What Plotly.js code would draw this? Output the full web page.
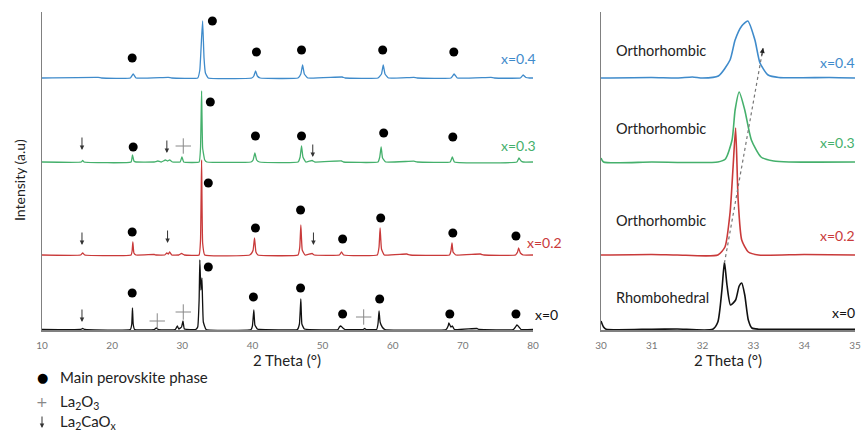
<!DOCTYPE html>
<html>
<head>
<meta charset="utf-8">
<script src="https://cdn.plot.ly/plotly-3.0.1.min.js"></script>
<style>html,body{margin:0;padding:0;background:#fff;}#chart{width:861px;height:432px;}</style>
</head>
<body>
<div id="chart"></div>
<script>
// ---------- DATA ----------
const sampleNames = ["x=0", "x=0.2", "x=0.3", "x=0.4"];
const sampleColors = ["#111111", "#c93a3a", "#45b06c", "#3f8bcb"];
const stackOffsets = [0, 75, 168, 252];   // vertical stacking of patterns (a.u.)

// Full pattern, 2 Theta 10-80
const full_x0 = [10,15.5,15.8,16.1,22.6,22.8,22.9,23.0,23.2,26.0,26.3,26.6,29.0,29.3,29.5,29.9,30.1,30.3,31.9,32.2,32.4,32.5,32.65,32.8,33.0,33.4,39.8,40.0,40.2,40.35,40.7,41,46.4,46.7,46.9,47.05,47.4,52.2,52.4,52.6,52.9,53.2,55.8,56,56.2,57.7,57.9,58.05,58.2,58.5,58.9,67.6,67.9,68.0,68.3,68.5,68.8,72,72.3,77.2,77.5,77.7,78.0,78.3,80];
const full_y0 = [0.5,0.5,1.5,0.5,0.5,6,22,6,0.5,0.5,2,0.5,0.5,4,1,3,9,1,0.5,3,30,70,40,52,8,0.5,0.5,4,20,5,1,0.5,0.5,6,31,6,1,0.5,3,4,2,0.5,0.5,1.5,0.5,0.5,6,19,8,3,0.5,0.5,4,7,3,4,0.5,1.5,0.5,0.5,3,5,3,0.5,0.5];

const full_x1 = [10,15.5,15.8,16.1,22.7,22.85,22.95,23.1,23.4,26,26.3,27.5,27.8,28.0,28.2,28.5,29.5,29.9,30.3,32.4,32.6,32.75,32.9,33.2,39.6,39.9,40.1,40.3,40.5,40.8,46.5,46.75,46.9,47.1,47.5,48.5,48.8,52.4,52.7,53,57.8,58.05,58.2,58.4,58.8,62,62.5,68.1,68.3,68.45,68.6,69,72.5,73,77.5,77.8,77.95,78.2,78.6,80];
const full_y1 = [0,0,2,0,0,4,13,2,0,0.5,0,0,2,1,3,0,0,1.5,0,0,15,95,12,0,0,2,5,17,3,0,0,8,30,5,0,1.5,0,0,3,0,0,8,27,6,0,1,0,0,4,12,3,0,1,0,0,3,7,2,0,0];

const full_x2 = [10,15.6,15.8,16,22.7,22.9,23.1,23.4,26,26.5,27,27.6,27.9,28.2,28.6,29.7,29.95,30.2,32.4,32.6,32.75,32.9,33.2,33.5,39.8,40.1,40.35,40.6,41,46.5,46.8,47.0,47.2,47.6,48.5,48.9,52.7,53,57.9,58.15,58.35,58.55,59,63,63.5,68.2,68.5,68.8,77.7,78,78.3,78.6,80];
const full_y2 = [0,0,1.5,0,0,7,1,0,0,1,0,2,1,2,0,0,5,0,0,14,71,14,2,0,0,2,9,2,0,0,5,16,5,0,1.5,0,1,0,0,5,15,4,0,0.8,0,0,5,0,0,4,1,0,0];

const full_x3 = [10,18,18.5,22.6,23.0,23.4,28,28.5,32.2,32.5,32.75,32.9,33.1,33.3,33.7,39.9,40.2,40.45,40.7,41.1,46.5,46.9,47.15,47.4,47.9,52.8,53.2,57.9,58.4,58.65,58.9,59.4,63,63.5,68.3,68.75,69.2,74,74.5,78.2,78.6,79,79.5,80];
const full_y3 = [0,0.6,0,0,4,0,0.6,0,0,8,40,57,20,5,0,0,2,7,2,0,0,4,13,4,0,1,0,0,4,13,4,0,0.6,0,0,4,0,0.6,0,0,3,0.5,0,0];

// Zoomed main reflection, 2 Theta 30-35
const zoom_x0 = [30,30.05,30.1,31,31.5,32.2,32.3,32.38,32.43,32.48,32.55,32.65,32.72,32.77,32.83,32.9,32.97,33.1,34,35];
const zoom_y0 = [9,3,0.8,0.8,1,0.8,8,40,68,45,25,30,44,47,35,10,2,0.8,0.8,0.8];
const zoom_x1 = [30,31,31.5,32.3,32.44,32.54,32.6,32.65,32.7,32.77,32.9,33.1,34,35];
const zoom_y1 = [0,0.5,0,0,8,42,88,127,55,15,3,0,0.5,0];
const zoom_x2 = [30,30.05,31,32.3,32.45,32.58,32.64,32.72,32.83,32.96,33.15,33.4,33.7,35];
const zoom_y2 = [4,0,0,0,3,22,52,70,52,22,5,1,0,0];
const zoom_x3 = [30,31,31.5,31.8,32.0,32.31,32.54,32.64,32.77,32.89,33.03,33.13,33.29,33.5,34.5,35];
const zoom_y3 = [0,0.5,0,1,0,2,18,38,52,57,38,15,3,0.5,0.5,0];

// Phase markers (2 Theta, a.u. position on stacked plot)
const perovDotX = [22.86,34.29,40.57,47.0,58.57,68.71, 23.0,34.0,40.43,47.0,58.71,68.57, 22.86,33.71,40.43,46.86,52.86,58.29,68.57,77.57, 22.86,33.71,40.14,46.86,52.86,58.14,68.14,77.57];
const perovDotY = [272,309,278,280,280,278, 183,228,194,194,197,193, 98,147,102,120,91,112,97,94, 37,63,33,42,16,31,16,16];
const la2o3X = [26.43,30.14,55.86,30.14];
const la2o3Y = [9,18,13,184];
const la2caoxX = [15.7, 15.7,27.9,48.7, 15.7,27.8,48.6];
const la2caoxY = [8, 85,87,85, 180,177,173];

const leftTicks = [10,20,30,40,50,60,70,80];
const rightTicks = [30,31,32,33,34,35];
const phaseLabels = ["Rhombohedral","Orthorhombic","Orthorhombic","Orthorhombic"];
const phaseLabelY = [33,110,202,280];
const leftLabelY = [16,88,185,272];
const rightLabelY = [18,95,188,268];
const shiftArrow = {x0: 32.43, y0: 67, x1: 33.19, y1: 282};

// ---------- BUILD ----------
const fullX = [full_x0, full_x1, full_x2, full_x3];
const fullY = [full_y0, full_y1, full_y2, full_y3];
const zoomX = [zoom_x0, zoom_x1, zoom_x2, zoom_x3];
const zoomY = [zoom_y0, zoom_y1, zoom_y2, zoom_y3];

const traces = [];
for (let i = 3; i >= 0; i--) {
  traces.push({x: fullX[i], y: fullY[i].map(v => v + stackOffsets[i]), type: 'scatter', mode: 'lines',
    line: {color: sampleColors[i], width: 1.3, shape: 'spline', smoothing: 0.3}, xaxis: 'x', yaxis: 'y', name: sampleNames[i], hoverinfo: 'skip'});
  traces.push({x: zoomX[i], y: zoomY[i].map(v => v + stackOffsets[i]), type: 'scatter', mode: 'lines',
    line: {color: sampleColors[i], width: 1.6, shape: 'spline', smoothing: 0.6}, xaxis: 'x2', yaxis: 'y2', name: sampleNames[i], hoverinfo: 'skip'});
}
traces.push({x: perovDotX, y: perovDotY, type: 'scatter', mode: 'markers', xaxis: 'x', yaxis: 'y',
  marker: {symbol: 'circle', size: 9, color: '#000'}, cliponaxis: false, hoverinfo: 'skip'});
traces.push({x: la2o3X, y: la2o3Y, type: 'scatter', mode: 'markers', xaxis: 'x', yaxis: 'y',
  marker: {symbol: 'cross-thin-open', size: 11, color: '#888', line: {width: 1, color: '#888'}}, hoverinfo: 'skip'});

const font = 'Lato, "Open Sans", sans-serif';
const MR = 6, ML = 42, MT = 12, PH = 318;
const PW = 861 - ML - MR;
const px = v => (v - ML) / PW;          // pixel x -> paper
const py = v => (MT + PH - v) / PH;     // pixel y -> paper
const annotations = [];
la2caoxX.forEach((x, k) => {
  annotations.push({x: x, y: la2caoxY[k], xref: 'x', yref: 'y', ax: 0, ay: -14, showarrow: true, text: '',
    arrowhead: 2, arrowsize: 0.9, arrowwidth: 1, arrowcolor: '#333'});
});
const leftLabelPX = [533, 525, 538, 538];
const leftLabelAnchor = ['left', 'left', 'right', 'right'];
for (let i = 0; i < 4; i++) {
  annotations.push({x: px(leftLabelPX[i]), y: leftLabelY[i], xref: 'paper', yref: 'y',
    xanchor: leftLabelAnchor[i], yanchor: 'middle', text: sampleNames[i], showarrow: false,
    font: {family: font, size: 14, color: sampleColors[i]}});
  annotations.push({x: px(857), y: rightLabelY[i], xref: 'paper', yref: 'y2', xanchor: 'right', yanchor: 'middle',
    text: sampleNames[i], showarrow: false, font: {family: font, size: 14, color: sampleColors[i]}});
  annotations.push({x: 30.25, y: phaseLabelY[i], xref: 'x2', yref: 'y2', xanchor: 'left', yanchor: 'middle',
    text: phaseLabels[i], showarrow: false, font: {family: font, size: 14.5, color: '#222'}});
}
// shift arrow head
annotations.push({x: shiftArrow.x1, y: shiftArrow.y1, xref: 'x2', yref: 'y2', ax: -1.5, ay: 9, showarrow: true, text: '',
  arrowhead: 2, arrowsize: 1, arrowwidth: 1, arrowcolor: '#222'});
// axis titles
annotations.push({x: px(19), y: py(180), xref: 'paper', yref: 'paper', text: 'Intensity (a.u)', textangle: -90,
  showarrow: false, font: {family: font, size: 14, color: '#222'}, xanchor: 'center', yanchor: 'middle'});
annotations.push({x: px(287), y: py(360), xref: 'paper', yref: 'paper', text: '2 Theta (°)', showarrow: false,
  font: {family: font, size: 15, color: '#222'}, xanchor: 'center', yanchor: 'middle'});
annotations.push({x: px(728), y: py(360), xref: 'paper', yref: 'paper', text: '2 Theta (°)', showarrow: false,
  font: {family: font, size: 15, color: '#222'}, xanchor: 'center', yanchor: 'middle'});
// legend
annotations.push({x: px(42), y: py(377), xref: 'paper', yref: 'paper', text: '●', showarrow: false, xanchor: 'center', yanchor: 'middle',
  font: {family: 'DejaVu Sans', size: 13, color: '#000'}});
annotations.push({x: px(58), y: py(377), xref: 'paper', yref: 'paper', text: 'Main perovskite phase', showarrow: false,
  xanchor: 'left', yanchor: 'middle', font: {family: font, size: 15, color: '#222'}});
annotations.push({x: px(42), y: py(402), xref: 'paper', yref: 'paper', text: '+', showarrow: false, xanchor: 'center', yanchor: 'middle',
  font: {family: 'DejaVu Sans', size: 14, color: '#888'}});
annotations.push({x: px(58), y: py(402), xref: 'paper', yref: 'paper', text: 'La<sub>2</sub>O<sub>3</sub>', showarrow: false,
  xanchor: 'left', yanchor: 'middle', font: {family: font, size: 15, color: '#222'}});
annotations.push({x: px(42), y: py(428), xref: 'paper', yref: 'paper', ax: 0, ay: -13, showarrow: true, text: '',
  arrowhead: 2, arrowsize: 0.9, arrowwidth: 1, arrowcolor: '#333'});
annotations.push({x: px(58), y: py(422), xref: 'paper', yref: 'paper', text: 'La<sub>2</sub>CaO<sub>x</sub>', showarrow: false,
  xanchor: 'left', yanchor: 'middle', font: {family: font, size: 15, color: '#222'}});

const axCommon = {showgrid: false, zeroline: false, showline: true, linecolor: '#808080', linewidth: 1.5,
  ticks: '', tickfont: {family: font, size: 10, color: '#777'}, ticklabelstandoff: 5, ticklabeloverflow: 'allow',
  fixedrange: true};
const layout = {
  width: 861, height: 432, margin: {l: ML, r: MR, t: MT, b: 102},
  paper_bgcolor: '#fff', plot_bgcolor: '#fff', showlegend: false,
  xaxis: Object.assign({}, axCommon, {domain: [0, px(533)], range: [10, 80], tickvals: leftTicks, anchor: 'y'}),
  yaxis: Object.assign({}, axCommon, {domain: [0, 1], range: [0, 318], showticklabels: false, anchor: 'x'}),
  xaxis2: Object.assign({}, axCommon, {domain: [px(601), 1], range: [30, 35], tickvals: rightTicks, anchor: 'y2'}),
  yaxis2: Object.assign({}, axCommon, {domain: [0, 1], range: [0, 318], showticklabels: false, anchor: 'x2'}),
  shapes: [{type: 'line', xref: 'x2', yref: 'y2', x0: shiftArrow.x0, y0: shiftArrow.y0, x1: shiftArrow.x1, y1: shiftArrow.y1,
    line: {color: '#777', width: 1.2, dash: 'dot'}}],
  annotations: annotations
};
Plotly.newPlot('chart', traces, layout, {displayModeBar: false, staticPlot: true});
</script>
</body>
</html>
